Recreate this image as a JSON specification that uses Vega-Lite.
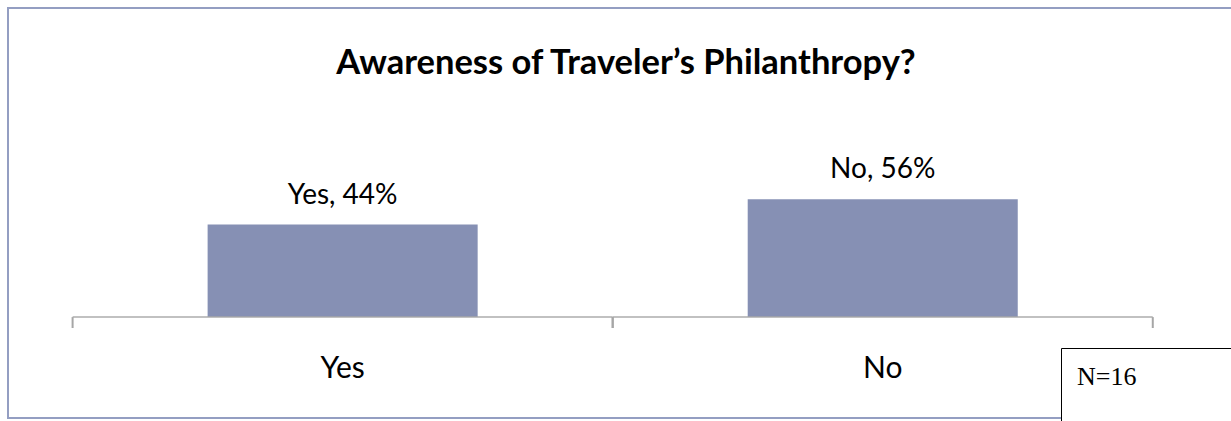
{
  "$schema": "https://vega.github.io/schema/vega-lite/v6.json",
  "width": 1226,
  "height": 410,
  "autosize": "none",
  "padding": {"left": 8, "top": 8, "right": 0, "bottom": 3},
  "background": "white",
  "config": {
    "view": {"stroke": "#949ec2", "strokeWidth": 2},
    "font": "Lato"
  },
  "title": {
    "text": "Awareness of Traveler’s Philanthropy?",
    "font": "Lato",
    "fontSize": 34.5,
    "fontWeight": "bold",
    "color": "black",
    "baseline": "alphabetic",
    "offset": -100,
    "anchor": "middle",
    "dx": 5
  },
  "data": {
    "values": [
      {"answer": "Yes", "pct": 44, "label": "Yes, 44%"},
      {"answer": "No", "pct": 56, "label": "No, 56%"}
    ]
  },
  "encoding": {
    "x": {
      "field": "answer",
      "type": "nominal",
      "sort": ["Yes", "No"],
      "scale": {"paddingInner": 0.5, "paddingOuter": 0.385, "align": 0.48},
      "axis": {
        "domain": false,
        "ticks": false,
        "grid": false,
        "offset": -101,
        "title": null,
        "labelAngle": 0,
        "labelFont": "Lato",
        "labelFontSize": 30,
        "labelColor": "black",
        "labelBaseline": "alphabetic",
        "labelPadding": 60
      }
    }
  },
  "layer": [
    {
      "mark": {"type": "bar"},
      "encoding": {
        "y": {"field": "pct", "type": "quantitative", "scale": {"domain": [-48, 147], "nice": false, "zero": false}, "axis": null},
        "y2": {"datum": 0},
        "color": {
          "datum": 1,
          "type": "quantitative",
          "scale": {"domain": [0, 1], "range": ["#8690b4", "#8690b4"]},
          "legend": {
            "title": "N=16",
            "direction": "horizontal",
            "orient": "bottom-right",
            "offset": -9,
            "padding": 16,
            "strokeColor": "black",
            "fillColor": "white",
            "titleFont": "Liberation Serif",
            "titleFontSize": 26,
            "titleFontWeight": "normal",
            "titleColor": "black",
            "titlePadding": 0,
            "gradientLength": 150,
            "gradientThickness": 20,
            "gradientOpacity": 0,
            "gradientStrokeWidth": 0,
            "labelExpr": "''",
            "labelFontSize": 1,
            "labelOffset": 0
          }
        }
      }
    },
    {
      "mark": {"type": "text", "font": "Lato", "fontSize": 28, "baseline": "alphabetic", "dy": -21, "color": "black"},
      "encoding": {
        "y": {"field": "pct", "type": "quantitative", "scale": {"domain": [-48, 147], "nice": false, "zero": false}, "axis": null},
        "text": {"field": "label"}
      }
    },
    {
      "mark": {"type": "tick", "orient": "horizontal", "size": 540, "thickness": 2, "color": "#a6a6a6"},
      "encoding": {
        "y": {"datum": 0, "type": "quantitative", "scale": {"domain": [-48, 147], "nice": false, "zero": false}, "axis": null}
      }
    },
    {
      "mark": {"type": "rule", "strokeWidth": 2, "color": "#a6a6a6"},
      "encoding": {
        "x": {"field": "answer", "type": "nominal", "sort": ["Yes", "No"], "bandPosition": -0.5},
        "y": {"datum": 0, "type": "quantitative", "scale": {"domain": [-48, 147], "nice": false, "zero": false}, "axis": null},
        "y2": {"datum": -5.2}
      }
    },
    {
      "mark": {"type": "rule", "strokeWidth": 2, "color": "#a6a6a6"},
      "encoding": {
        "x": {"field": "answer", "type": "nominal", "sort": ["Yes", "No"], "bandPosition": 1.5},
        "y": {"datum": 0, "type": "quantitative", "scale": {"domain": [-48, 147], "nice": false, "zero": false}, "axis": null},
        "y2": {"datum": -5.2}
      }
    }
  ]
}
